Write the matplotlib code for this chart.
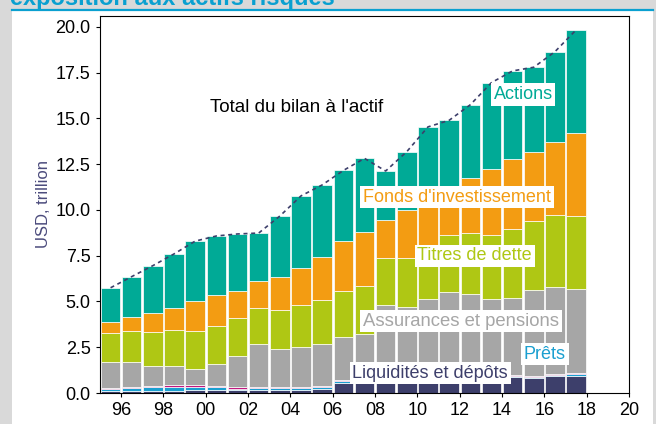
import matplotlib
matplotlib.use("Agg")
import matplotlib.pyplot as plt
from matplotlib.patches import Rectangle
from matplotlib.lines import Line2D
import numpy as np

plt.rcParams['font.family'] = ['Liberation Sans', 'DejaVu Sans']

years = list(range(1995, 2018))
liquidites = [0.11, 0.11, 0.13, 0.13, 0.15, 0.15, 0.15, 0.18, 0.18, 0.18, 0.20, 0.55,
              0.60, 0.62, 0.66, 0.70, 0.72, 0.75, 0.80, 0.86, 0.80, 0.91, 0.95]
prets = [0.11, 0.15, 0.18, 0.22, 0.18, 0.16, 0.09, 0.09, 0.09, 0.09, 0.11, 0.09,
         0.08, 0.08, 0.08, 0.08, 0.08, 0.08, 0.08, 0.05, 0.09, 0.05, 0.07]
autres = [0.05, 0.07, 0.07, 0.09, 0.11, 0.09, 0.07, 0.08, 0.08, 0.08, 0.07, 0.06,
          0.06, 0.06, 0.06, 0.06, 0.06, 0.06, 0.05, 0.05, 0.05, 0.06, 0.05]
assurances = [1.44, 1.38, 1.11, 1.05, 0.85, 1.20, 1.73, 2.31, 2.05, 2.16, 2.31, 2.38,
              2.48, 4.05, 3.88, 4.28, 4.68, 4.50, 4.21, 4.21, 4.70, 4.75, 4.60]
titres = [1.59, 1.69, 1.86, 1.95, 2.11, 2.08, 2.04, 2.00, 2.15, 2.32, 2.39, 2.49,
          2.64, 2.58, 2.71, 2.88, 3.07, 3.35, 3.47, 3.77, 3.78, 3.98, 4.02]
fonds = [0.56, 0.77, 1.04, 1.22, 1.63, 1.69, 1.51, 1.48, 1.81, 2.02, 2.35, 2.75,
         2.94, 2.04, 2.61, 2.60, 2.49, 3.03, 3.63, 3.83, 3.75, 3.97, 4.50]
actions = [1.89, 2.19, 2.57, 2.94, 3.27, 3.21, 3.10, 2.60, 3.31, 3.92, 3.94, 3.84,
           4.02, 2.70, 3.19, 3.94, 3.80, 3.98, 4.72, 4.83, 4.63, 4.93, 5.65]

series = [liquidites, prets, autres, assurances, titres, fonds, actions]
colors = ['#3d3f6b', '#1a9fd0', '#c0197f', '#a6a6a6', '#afc714', '#f39c12', '#00aa96']

xticks = list(range(1996, 2021, 2))
xticklabels = ['96', '98', '00', '02', '04', '06', '08', '10', '12', '14', '16', '18', '20']
yticks = [0, 2.5, 5, 7.5, 10, 12.5, 15, 17.5, 20]

fig = plt.figure(figsize=(6.56, 4.24), dpi=100)
fig.patch.set_facecolor('#d9d9d9')
W, H = 656, 424
fig.patches.append(Rectangle((12 / W, 0), (653 - 12) / W, (H - 10.5) / H,
                             transform=fig.transFigure, facecolor='white',
                             edgecolor='none', zorder=-1))
fig.lines.append(Line2D([11.5 / W, 653 / W], [(H - 10) / H, (H - 10) / H],
                        transform=fig.transFigure, color='#0aa0d0', lw=1.6, zorder=-0.5))
fig.text(10 / W, 1 - 5 / H, "exposition aux actifs risqués", color='#0aa0d0',
         fontsize=17, fontweight='bold', ha='left', va='baseline', zorder=-2)

ax = fig.add_axes([100 / W, 31 / H, 529 / W, 377 / H])
x = np.array(years) + 0.5
bottom = np.zeros(len(years))
for vals, c in zip(series, colors):
    v = np.array(vals)
    ax.bar(x, v, width=0.92, bottom=bottom, color=c, edgecolor='white',
           linewidth=0.5, zorder=2)
    bottom = bottom + v

ax.plot(x, bottom, color='#3d3f6b', lw=1.2, dashes=(2.4, 2.2), zorder=3)

ax.set_xlim(1995, 2020)
ax.set_ylim(0, 20.6)
ax.set_xticks(xticks)
ax.set_xticklabels(xticklabels)
ax.set_yticks(yticks)
ax.set_yticklabels(['%.1f' % t for t in yticks])
ax.tick_params(axis='both', labelsize=13, length=3.2, width=0.8, pad=3.5, colors='black')
for s in ax.spines.values():
    s.set_linewidth(0.8)
ax.set_ylabel('USD, trillion', color='#4b4b7c', fontsize=12)
ax.yaxis.set_label_coords(-0.093, 0.5)

box = dict(facecolor='white', edgecolor='none', pad=2.0)
ax.text(2000.2, 15.6, "Total du bilan à l'actif", fontsize=13.5, color='black',
        ha='left', va='center', zorder=5)
ax.text(2015.0, 16.3, "Actions", fontsize=13, color='#00aa96', ha='center',
        va='center', bbox=box, zorder=5)
ax.text(2011.87, 10.7, "Fonds d'investissement", fontsize=13, color='#f39c12',
        ha='center', va='center', bbox=box, zorder=5)
ax.text(2012.7, 7.49, "Titres de dette", fontsize=13, color='#afc714',
        ha='center', va='center', bbox=box, zorder=5)
ax.text(2012.06, 3.93, "Assurances et pensions", fontsize=13.3, color='#a6a6a6',
        ha='center', va='center', bbox=box, zorder=5)
ax.text(2016.03, 2.13, "Prêts", fontsize=13, color='#1a9fd0', ha='center',
        va='center', bbox=box, zorder=5)
ax.text(2010.6, 1.09, "Liquidités et dépôts", fontsize=13, color='#3d3f6b',
        ha='center', va='center', bbox=box, zorder=5)

fig.savefig('out.png', dpi=100, facecolor=fig.get_facecolor())
